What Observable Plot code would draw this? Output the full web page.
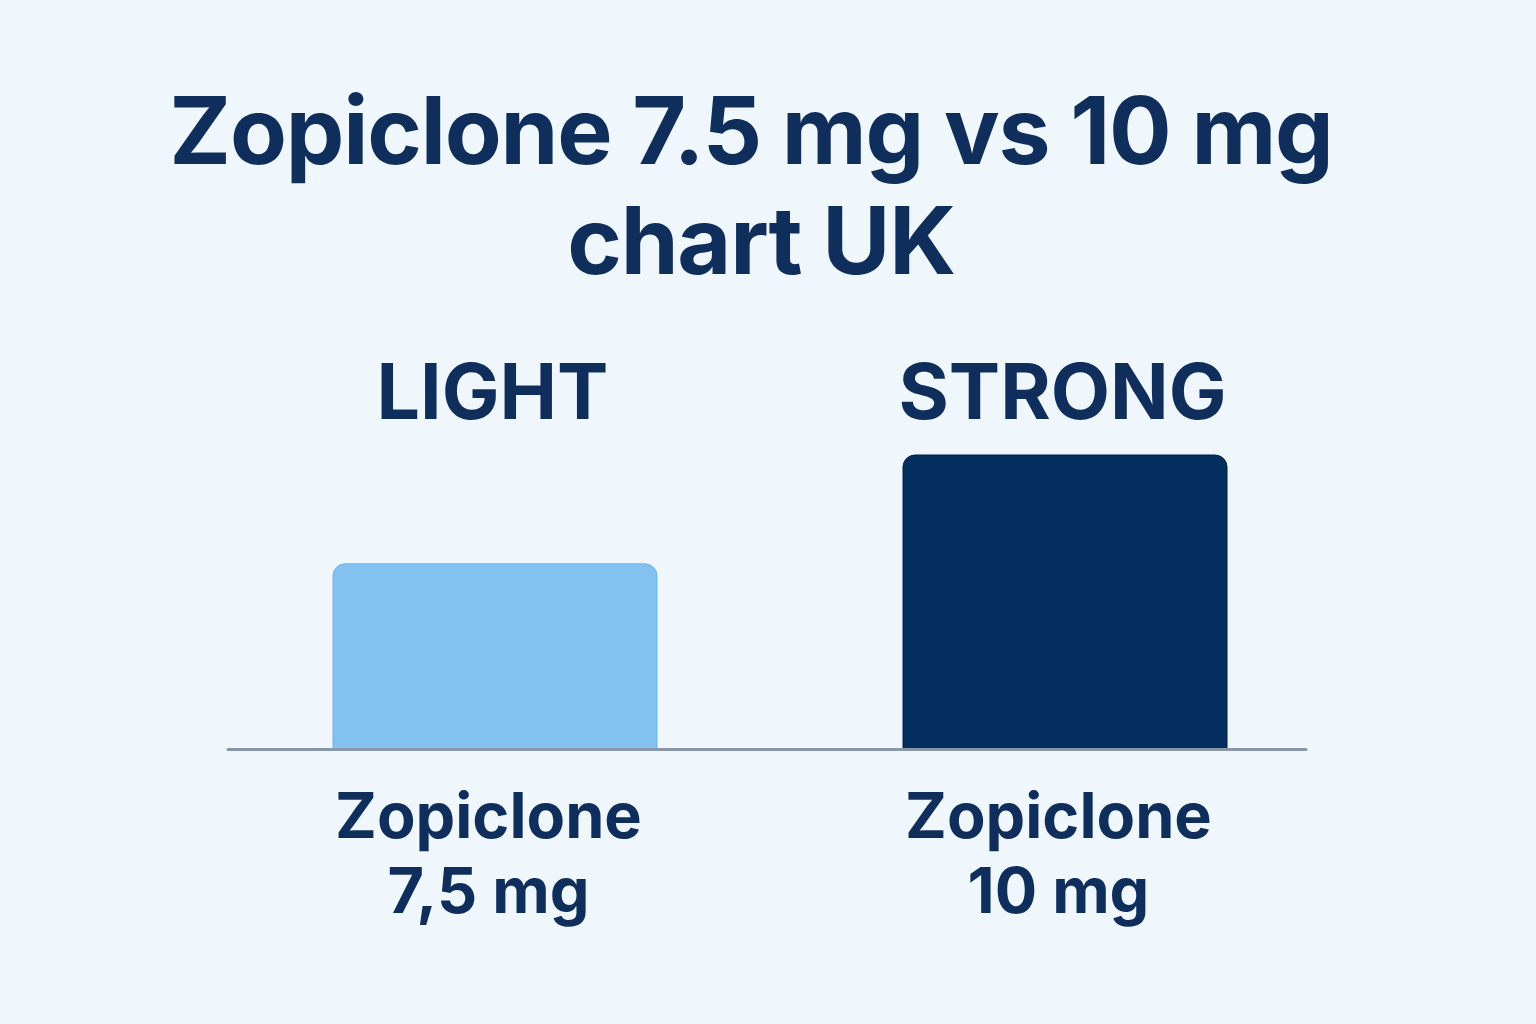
<!DOCTYPE html>
<html>
<head>
<meta charset="utf-8">
<script src="https://cdn.jsdelivr.net/npm/d3@7"></script>
<script src="https://cdn.jsdelivr.net/npm/@observablehq/plot@0.6"></script>
<style>
  html, body { margin: 0; padding: 0; background: #EFF7FD; }
  body { width: 1536px; height: 1024px; overflow: hidden; font-family: Inter, "Open Sans", sans-serif; }
  #title { margin: 0; padding-top: 75px; height: 250px; box-sizing: border-box; text-align: center;
    color: #102E5C; font-weight: 700; font-size: 93px; line-height: 110px; letter-spacing: -1.2px; }
  #title .l1 { padding-right: 34px; }
  #title .l2 { padding-right: 14px; }
  #chart svg { display: block; }
</style>
</head>
<body>
<div id="title"><div class="l1">Zopiclone 7.5 mg vs 10 mg</div><div class="l2">chart UK</div></div>
<div id="chart"></div>
<script>
const categories = ["LIGHT", "STRONG"];
const productLabels = ["Zopiclone\n7,5 mg", "Zopiclone\n10 mg"];
const barHeight = [63, 100]; // relative bar height as drawn
const barColors = ["#82C1F0", "#032E5E"];
const barEdges = ["#72B4EA", "#021F4A"];

const data = categories.map((c, i) => ({category: c, value: barHeight[i], label: productLabels[i], color: barColors[i], edge: barEdges[i]}));

const chart = Plot.plot({
  width: 1536,
  height: 774,
  marginLeft: 228,
  marginRight: 230,
  marginTop: 205,
  marginBottom: 275,
  style: {background: "transparent", fontFamily: "Inter, 'Open Sans', sans-serif"},
  x: {domain: categories, range: [333, 1227], paddingInner: 0.4316, paddingOuter: 0, round: false, axis: null},
  y: {domain: [0, 100], axis: null},
  marks: [
    Plot.barY(data, {x: "category", y: "value", fill: "color", stroke: "edge", strokeWidth: 1,
      rx1y1: 12, rx2y1: 12, rx1y2: 0, rx2y2: 0}),
    Plot.ruleY([0], {stroke: "#8898A9", strokeWidth: 3, strokeLinecap: "round"}),
    Plot.text(data, {x: "category", text: "category", frameAnchor: "top", lineAnchor: "bottom", dy: -37, dx: -3,
      fontSize: 77, fontWeight: 700, fill: "#102E5C"}),
    Plot.text(data, {x: "category", text: "label", frameAnchor: "bottom", lineAnchor: "top", dy: 35, dx: -7,
      fontSize: 63, fontWeight: 700, lineHeight: 1.19, fill: "#102E5C"})
  ]
});
document.getElementById("chart").appendChild(chart);
</script>
</body>
</html>
